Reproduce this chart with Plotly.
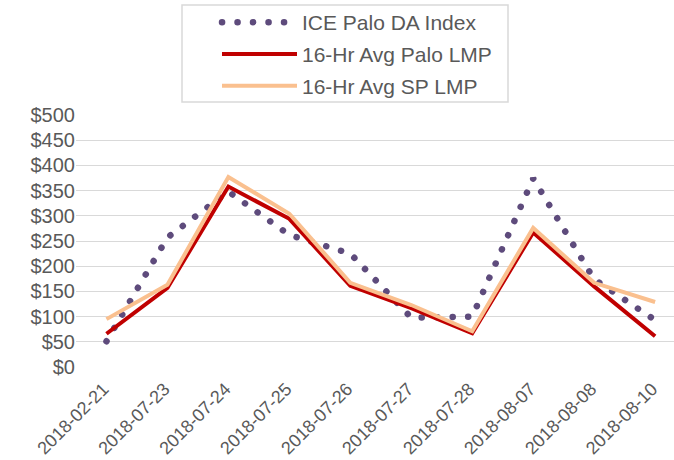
import plotly.graph_objects as go

dates = ["2018-02-21", "2018-07-23", "2018-07-24", "2018-07-25", "2018-07-26",
         "2018-07-27", "2018-07-28", "2018-08-07", "2018-08-08", "2018-08-10"]
ice_palo = [51, 257, 348, 262, 225, 98, 100, 374, 174, 93]
palo_lmp = [66, 157, 358, 294, 161, 117, 67, 267, 160, 61]
sp_lmp = [95, 163, 377, 304, 167, 123, 71, 276, 167, 129]

FONT = "Liberation Sans, Arial, sans-serif"
TXT = "#595959"

W, H = 674, 460
ML, MR, MT, MB = 76, 0, 115, 93
PW, PH = W - ML - MR, H - MT - MB

fig = go.Figure()
fig.add_trace(go.Scatter(x=dates, y=ice_palo, name="ICE Palo DA Index", mode="lines",
                         line=dict(color="#5E4B7C", width=6.5, dash="1px,14.5px"),
                         legendgroup="a"))
fig.add_trace(go.Scatter(x=dates, y=palo_lmp, name="16-Hr Avg Palo LMP", mode="lines",
                         line=dict(color="#C00000", width=4),
                         legendgroup="b"))
fig.add_trace(go.Scatter(x=dates, y=sp_lmp, name="16-Hr Avg SP LMP", mode="lines",
                         line=dict(color="#FAC08F", width=4),
                         legendgroup="c"))

# legend frame
fig.add_shape(type="rect", xref="paper", yref="paper",
              x0=(182 - ML) / PW, x1=(508 - ML) / PW,
              y0=(H - MB - 102) / PH, y1=(H - MB - 5) / PH,
              line=dict(color="#D9D9D9", width=1.5), fillcolor="rgba(0,0,0,0)",
              layer="above")

fig.update_layout(
    width=W, height=H,
    margin=dict(l=ML, r=MR, t=MT, b=MB, autoexpand=False),
    paper_bgcolor="white", plot_bgcolor="white",
    font=dict(family=FONT, color=TXT, size=18),
    showlegend=True,
    hovermode=False,
    legend=dict(x=217 / W, y=1 - 2 / H, xanchor="left", yanchor="top",
                xref="container", yref="container",
                borderwidth=0, bgcolor="rgba(0,0,0,0)",
                font=dict(size=21, color=TXT, family=FONT),
                itemwidth=75, traceorder="grouped", tracegroupgap=1.5),
    xaxis=dict(type="category", range=[-0.5, 9.31], showgrid=False,
               showline=False, zeroline=False, ticks="", automargin=False,
               tickangle=-45, ticklabelstandoff=7, ticklabelshift=-3,
               tickfont=dict(size=18, color=TXT, family=FONT)),
    yaxis=dict(range=[0, 500], dtick=50, tickprefix="$", showgrid=True,
               gridcolor="#D9D9D9", gridwidth=1, zeroline=False, showline=False,
               ticks="", automargin=False,
               tickfont=dict(size=20, color=TXT, family=FONT)),
)

post = """
document.body.style.margin = '0';
document.body.style.overflow = 'hidden';
var gd = document.getElementById('{plot_id}');
function roundDots(){
  var t = gd.querySelectorAll('.scatterlayer .trace');
  if (t.length) {
    t[0].querySelectorAll('path.js-line').forEach(function(p){
      p.style.strokeLinecap = 'round';
      p.style.strokeDasharray = '0.1px,15.4px';
    });
  }
  var l = gd.querySelectorAll('.legend .traces');
  if (l.length) {
    l[0].querySelectorAll('path.js-line').forEach(function(p){
      p.style.strokeLinecap = 'round';
      p.style.strokeDasharray = '0.1px,15.4px';
    });
  }
}
roundDots();
gd.on('plotly_afterplot', roundDots);
"""

fig.write_html("out.html", post_script=post,
               config=dict(displayModeBar=False, staticPlot=True))
